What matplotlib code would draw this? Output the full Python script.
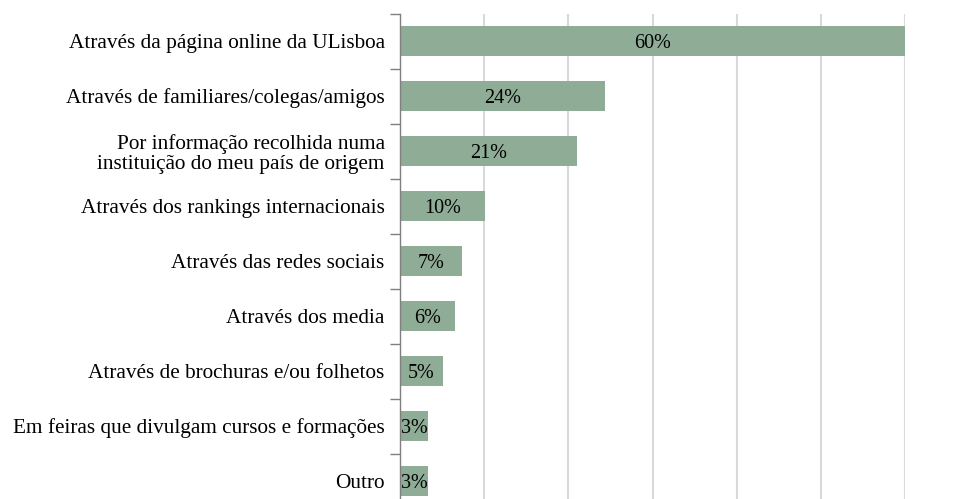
import matplotlib
matplotlib.use("Agg")
import matplotlib.pyplot as plt
import numpy as np

categories = [
    "Através da página online da ULisboa",
    "Através de familiares/colegas/amigos",
    "Por informação recolhida numa\ninstituição do meu país de origem",
    "Através dos rankings internacionais",
    "Através das redes sociais",
    "Através dos media",
    "Através de brochuras e/ou folhetos",
    "Em feiras que divulgam cursos e formações",
    "Outro",
]
values = [60.0, 24.3, 21.0, 10.1, 7.4, 6.5, 5.1, 3.3, 3.3]
labels = ["60%", "24%", "21%", "10%", "7%", "6%", "5%", "3%", "3%"]

plt.rcParams['font.family'] = ['Liberation Serif', 'DejaVu Serif']

fig = plt.figure(figsize=(9.8, 4.99), dpi=100)
ax = fig.add_axes([400/980, -9.5/499, 505/980, 495/499])

y = np.arange(len(categories))
bars = ax.barh(y, values, height=0.56, color="#8FAD96", zorder=2)
for b, lab in zip(bars, labels):
    ax.text(b.get_width()/2, b.get_y() + b.get_height()/2, lab,
            ha="center", va="center_baseline", fontsize=14.5, color="black", zorder=3)

ax.set_ylim(len(categories) - 0.5, -0.5)
ax.set_xlim(0, 60)
ax.set_xticks(np.arange(10, 61, 10))
ax.xaxis.grid(True, color="#D9D9D9", linewidth=1.5, zorder=0)
ax.tick_params(axis="x", length=0, labelbottom=False)

ax.set_yticks(y)
ax.set_yticklabels(categories, fontsize=15.3, linespacing=1.05)
ax.set_yticks(np.arange(-0.5, len(categories), 1), minor=True)
ax.tick_params(axis="y", which="major", length=0, pad=11)
ax.tick_params(axis="y", which="minor", length=7, color="#7F7F7F", width=1)

for s in ["top", "right", "bottom"]:
    ax.spines[s].set_visible(False)
ax.spines["left"].set_color("#7F7F7F")
ax.spines["left"].set_linewidth(1)
ax.spines["left"].set_zorder(4)

fig.savefig("out.png", dpi=100)
